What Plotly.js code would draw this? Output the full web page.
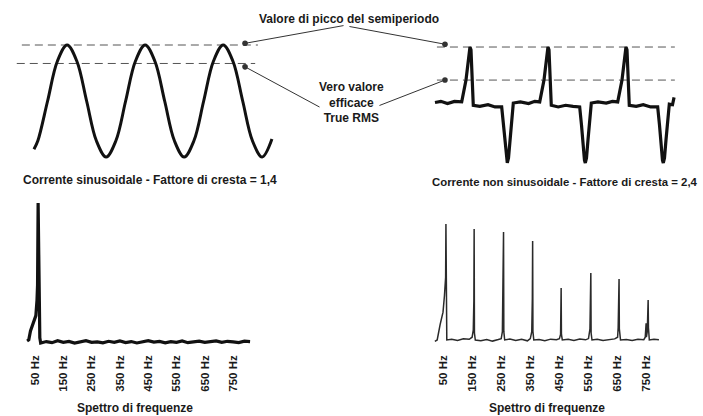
<!DOCTYPE html>
<html>
<head>
<meta charset="utf-8">
<script src="https://cdn.plot.ly/plotly-3.0.1.min.js"></script>
<style>html,body{margin:0;padding:0;background:#fff;}#chart{width:703px;height:416px;}</style>
</head>
<body>
<div id="chart"></div>
<script>
// ---- Sinusoidal current (time in ms, current normalised to peak) ----
const sineTime = [0.5, 1.5, 4, 6.5, 9, 11.5, 14, 16.5, 19, 21.5, 24, 26.5, 29, 31.5, 34, 36.5, 39, 41.5, 44, 46.5, 49, 51.5, 54, 56.5, 59, 61.5];
const sineCurrent = [-0.86, -0.71, 0, 0.71, 1, 0.71, 0, -0.71, -1, -0.71, 0, 0.71, 1, 0.71, 0, -0.71, -1, -0.71, 0, 0.71, 1, 0.71, 0, -0.71, -1, -0.68];
const sinePeakLineT = [-2.6, 57.9];
const sinePeakLevel = [1, 1];
const sineRmsLineT = [-3.9, 57.2];
const sineRmsLevel = [0.67, 0.67];

// ---- Non-sinusoidal current ----
const distTime = [0, 1.5, 3.2, 5.0, 6.85, 7.95, 8.97, 9.23, 9.82, 11.5, 13.6, 15.4, 17.1, 17.56, 17.95, 18.33, 18.54, 18.85, 19.23, 19.74, 20.08, 21.9, 24.0, 25.6, 26.85, 27.95, 28.97, 29.23, 29.82, 31.6, 33.5, 35.4, 37.1, 37.56, 37.95, 38.33, 38.54, 38.85, 39.23, 39.74, 40.08, 41.8, 43.9, 45.5, 46.85, 47.95, 48.97, 49.23, 49.82, 51.6, 53.4, 55.3, 57.1, 57.56, 57.95, 58.33, 58.54, 58.85, 59.23, 59.74, 60.08, 60.9, 61.3];
const distCurrent = [0.01, 0.03, -0.01, 0.03, 0.02, 0.41, 1.0, 0.95, -0.04, -0.06, -0.03, -0.07, -0.07, -0.39, -0.75, -1.02, -1.07, -0.98, -0.66, -0.27, 0, 0.02, -0.01, 0.03, 0.02, 0.41, 1.0, 0.95, -0.04, -0.07, -0.04, -0.06, -0.07, -0.39, -0.75, -1.02, -1.07, -0.98, -0.66, -0.27, 0, 0.02, 0.0, 0.03, 0.02, 0.41, 1.0, 0.95, -0.04, -0.06, -0.03, -0.07, -0.07, -0.39, -0.75, -1.02, -1.07, -0.98, -0.66, -0.27, -0.02, -0.03, 0.1];
const distPeakLineT = [0.5, 61.5];
const distPeakLevel = [1, 1];
const distRmsLineT = [0.5, 61.5];
const distRmsLevel = [0.41, 0.41];

// ---- Spectrum of sinusoidal current (Hz, relative amplitude) ----
const spec1Freq = [22, 28, 34, 41, 47, 53, 57, 59, 61, 63, 65, 67, 70, 90, 110, 130, 150, 170, 190, 210, 230, 250, 270, 290, 310, 330, 350, 370, 390, 410, 430, 450, 470, 490, 510, 530, 550, 570, 590, 610, 630, 650, 670, 690, 710, 730, 750, 770, 790, 810];
const spec1Amp = [0.7, 1.5, 8, 12, 17, 19, 30, 41, 100, 41, 20, 3, -0.7, 0.3, -0.5, 0.9, -0.2, 0.4, -0.8, 0.2, 0.9, -0.3, 0.1, -0.6, 0.5, -0.2, 0.8, -0.4, 0.3, -0.7, 0.2, 0.9, -0.1, 0.4, -0.6, 0.3, -0.2, 0.7, -0.5, 0.1, 0.6, -0.3, 0.4, 0.8, -0.2, 0.5, 0.1, -0.4, 0.6, 0.3];

// ---- Spectrum of non-sinusoidal current ----
const spec2Freq = [22, 30, 40, 50, 55, 59, 60, 61, 63, 80, 100, 120, 140, 150, 154, 156, 157, 158, 161, 180, 200, 220, 240, 250, 254, 257, 258, 259, 262, 280, 300, 320, 340, 350, 355, 357, 358, 359, 362, 380, 400, 420, 440, 450, 454, 456, 457, 460, 480, 500, 520, 540, 550, 555, 558, 559, 562, 580, 600, 620, 640, 650, 652, 655, 656, 660, 680, 700, 720, 740, 745, 748, 749, 752, 755, 756, 759, 775, 792];
const spec2Amp = [-1, 0, 11, 20, 32, 45, 83.5, 10, 0, 0.6, -0.3, 0.9, 0.5, 2, 7, 28, 79.9, 5, 0, -0.5, 0.4, -0.8, 0.3, 1, 6, 45, 77.7, 6, 0, 0.7, -0.4, 0.5, -0.6, 1, 6, 30, 71.2, 6, 0, 0.3, -0.5, 0.6, 0.2, 1, 4, 37.4, 4, 0, 0.5, -0.3, 0.7, 0.1, 1, 8, 48.2, 5, 0, 0.6, -0.4, 0.3, 0.8, 2, 9, 43.9, 8, 0, 0.4, -0.3, 0.6, 0.2, 2, 12, 2, 6, 28.8, 9, 0, 0.5, 0.2];

const freqTicks = [50, 150, 250, 350, 450, 550, 650, 750];
const freqLabels = ['50 Hz', '150 Hz', '250 Hz', '350 Hz', '450 Hz', '550 Hz', '650 Hz', '750 Hz'];

const captions = {
  peak: 'Valore di picco del semiperiodo',
  rms: 'Vero valore<br>efficace<br>True RMS',
  sine: 'Corrente sinusoidale - Fattore di cresta = 1,4',
  dist: 'Corrente non sinusoidale - Fattore di cresta = 2,4',
  spec: 'Spettro di frequenze'
};

const FONT = 'Liberation Sans, Arial, sans-serif';
const dashStyle = {color: '#555', width: 1, dash: '8px,5px'};

const traces = [
  {x: sinePeakLineT, y: sinePeakLevel, xaxis: 'x', yaxis: 'y', mode: 'lines', line: dashStyle, hoverinfo: 'skip'},
  {x: sineRmsLineT, y: sineRmsLevel, xaxis: 'x', yaxis: 'y', mode: 'lines', line: dashStyle, hoverinfo: 'skip'},
  {x: sineTime, y: sineCurrent, xaxis: 'x', yaxis: 'y', mode: 'lines', line: {color: '#111', width: 3, shape: 'spline', smoothing: 1}},
  {x: distPeakLineT, y: distPeakLevel, xaxis: 'x2', yaxis: 'y2', mode: 'lines', line: dashStyle, hoverinfo: 'skip'},
  {x: distRmsLineT, y: distRmsLevel, xaxis: 'x2', yaxis: 'y2', mode: 'lines', line: dashStyle, hoverinfo: 'skip'},
  {x: distTime, y: distCurrent, xaxis: 'x2', yaxis: 'y2', mode: 'lines', line: {color: '#111', width: 3.2}},
  {x: spec1Freq, y: spec1Amp, xaxis: 'x3', yaxis: 'y3', mode: 'lines', line: {color: '#111', width: 3.2}},
  {x: spec2Freq, y: spec2Amp, xaxis: 'x4', yaxis: 'y4', mode: 'lines', line: {color: '#2a2a2a', width: 1.5}}
];

const hidden = {visible: false, fixedrange: true, autorange: false};
const freqAxis = {
  visible: true, fixedrange: true, autorange: false,
  showgrid: false, zeroline: false, showline: false, ticks: '',
  tickmode: 'array', tickvals: freqTicks, ticktext: freqLabels,
  tickangle: -90, tickfont: {family: FONT, size: 11.5, color: '#1a1a1a', weight: 'bold'},
  ticklabelstandoff: 7
};

const arrowBase = {text: '', showarrow: true, arrowhead: 6, arrowsize: 1.4, arrowwidth: 1, arrowcolor: '#333', standoff: 0, startstandoff: 0};
const textFont = {family: FONT, size: 12, color: '#1a1a1a', weight: 'bold'};

const layout = {
  width: 703, height: 416,
  margin: {l: 0, r: 0, t: 0, b: 0},
  paper_bgcolor: '#fff', plot_bgcolor: '#fff',
  showlegend: false,
  xaxis: Object.assign({}, hidden, {domain: [0, 0.4196], range: [-8.2, 67.4], anchor: 'y'}),
  yaxis: Object.assign({}, hidden, {domain: [0.5913, 0.9279], range: [-1.232, 1.268], anchor: 'x'}),
  xaxis2: Object.assign({}, hidden, {domain: [0.569, 1], range: [-8.97, 68.72], anchor: 'y2'}),
  yaxis2: Object.assign({}, hidden, {domain: [0.5913, 0.9279], range: [-1.196, 1.304], anchor: 'x2'}),
  xaxis3: Object.assign({}, freqAxis, {domain: [0, 0.4125], range: [-73.7, 951], anchor: 'y3'}),
  yaxis3: Object.assign({}, hidden, {domain: [0.1707, 0.5313], range: [-2.16, 105.76], anchor: 'x3'}),
  xaxis4: Object.assign({}, freqAxis, {domain: [0.569, 1], range: [-97.8, 943.5], anchor: 'y4'}),
  yaxis4: Object.assign({}, hidden, {domain: [0.1707, 0.5313], range: [-3.6, 104.3], anchor: 'x4'}),
  annotations: [
    {xref: 'paper', yref: 'paper', x: 349/703, y: 1 - 19/416, text: captions.peak, showarrow: false, xanchor: 'center', yanchor: 'middle', font: textFont},
    {xref: 'paper', yref: 'paper', x: 351/703, y: 1 - 102/416, text: captions.rms, showarrow: false, xanchor: 'center', yanchor: 'middle', align: 'center', font: textFont},
    {xref: 'paper', yref: 'paper', x: 150/703, y: 1 - 180/416, text: captions.sine, showarrow: false, xanchor: 'center', yanchor: 'middle', font: textFont},
    {xref: 'paper', yref: 'paper', x: 565/703, y: 1 - 182/416, text: captions.dist, showarrow: false, xanchor: 'center', yanchor: 'middle', font: Object.assign({}, textFont, {size: 11.4})},
    {xref: 'paper', yref: 'paper', x: 135/703, y: 1 - 408/416, text: captions.spec, showarrow: false, xanchor: 'center', yanchor: 'middle', font: textFont},
    {xref: 'paper', yref: 'paper', x: 547/703, y: 1 - 408/416, text: captions.spec, showarrow: false, xanchor: 'center', yanchor: 'middle', font: textFont},
    Object.assign({}, arrowBase, {xref: 'x', yref: 'y', x: 54.6, y: 1.03, ax: 100, ay: -18}),
    Object.assign({}, arrowBase, {xref: 'x2', yref: 'y2', x: 2.56, y: 1.05, ax: -97, ay: -18}),
    Object.assign({}, arrowBase, {xref: 'x', yref: 'y', x: 54.6, y: 0.61, ax: 76, ay: 41}),
    Object.assign({}, arrowBase, {xref: 'x2', yref: 'y2', x: 2.56, y: 0.41, ax: -67, ay: 26})
  ]
};

Plotly.newPlot('chart', traces, layout, {staticPlot: true, displayModeBar: false});
</script>
</body>
</html>
